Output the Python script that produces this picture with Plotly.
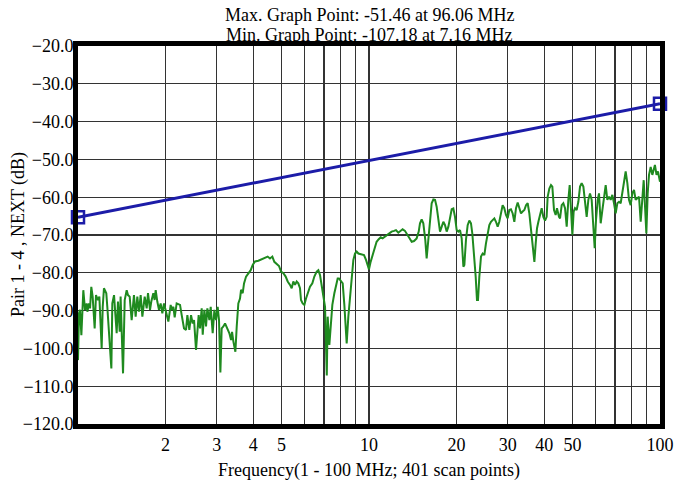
import plotly.graph_objects as go

# Measured NEXT trace (frequency in MHz, value in dB)
freq_mhz = [
    1.000, 1.008, 1.016, 1.027, 1.043, 1.057, 1.071, 1.077, 1.091, 1.100, 1.111, 1.123, 1.141, 1.153, 1.171, 1.184,
    1.206, 1.216, 1.228, 1.251, 1.261, 1.302, 1.312, 1.330, 1.358, 1.372, 1.391, 1.401, 1.428, 1.447, 1.470, 1.485,
    1.505, 1.529, 1.557, 1.578, 1.599, 1.620, 1.642, 1.664, 1.695, 1.722, 1.740, 1.768, 1.786, 1.815, 1.834, 1.849,
    1.873, 1.898, 1.923, 1.949, 1.975, 2.044, 2.082,
    2.099, 2.127, 2.149, 2.183, 2.242, 2.272, 2.314, 2.351, 2.376, 2.413, 2.446, 2.478, 2.505, 2.544, 2.571, 2.598,
    2.626, 2.661, 2.683, 2.718, 2.754, 2.783, 2.828, 2.858, 2.903, 2.942, 2.981, 3.020, 3.052, 3.085, 3.117, 3.159,
    3.201, 3.260, 3.313, 3.357, 3.384, 3.420, 3.474, 3.511, 3.556, 3.604, 3.633, 3.681, 3.720, 3.780, 3.850, 3.922,
    3.984, 4.058, 4.167, 4.278, 4.390,
    4.485, 4.568, 4.654, 4.728, 4.816, 4.906, 4.985, 5.078, 5.172, 5.255, 5.353, 5.424, 5.495, 5.568, 5.642, 5.716,
    5.793, 5.839, 5.916, 5.996, 6.075, 6.155, 6.270, 6.387, 6.489, 6.610, 6.698, 6.787, 6.914, 6.987, 7.062, 7.16,
    7.211, 7.307, 7.404, 7.482, 7.602, 7.683, 7.805, 7.888, 8.014, 8.121, 8.228, 8.381, 8.492, 8.605, 8.719, 8.836,
    8.953, 9.071, 9.192, 9.386,
    9.612, 9.766, 9.870, 10.00, 10.13, 10.29, 10.46, 10.62, 10.80, 10.97, 11.14, 11.35, 11.56, 11.75, 11.96, 12.19,
    12.38, 12.61, 12.84, 13.05, 13.29, 13.47, 13.76, 14.02, 14.28, 14.58, 14.82, 14.97, 15.17, 15.37, 15.61, 15.78,
    15.99, 16.20, 16.42, 16.64, 16.86, 17.08, 17.36, 17.54, 17.78, 18.01, 18.25, 18.49, 18.74, 18.98, 19.24, 19.49,
    19.75, 20.01,
    20.28, 20.55, 20.82, 21.10, 21.27, 21.54, 21.83, 22.12, 22.41, 22.65, 22.95, 23.26, 23.50, 23.69, 23.94, 24.26,
    24.58, 24.91, 25.23, 25.57, 25.91, 26.25, 26.60, 26.96, 27.31, 27.68, 28.04, 28.42, 28.79, 29.17, 29.56, 29.95,
    30.35, 30.75, 31.17, 31.58, 32.00, 32.43, 32.86, 33.29, 33.73, 34.19, 34.64, 35.10, 35.56, 36.05, 36.52, 37.01,
    37.40, 37.79, 38.20, 38.70, 39.21, 39.73, 40.26, 40.78, 41.11, 41.66, 42.21, 42.66, 43.23, 43.80, 44.26, 44.97,
    45.34, 45.94, 46.54, 47.17, 47.80, 48.42, 48.94, 49.46, 49.99, 50.50, 51.04, 51.72, 52.41, 53.11, 53.81, 54.53,
    55.25, 55.98, 56.72, 57.48, 58.24, 59.01, 59.64, 60.27, 61.07, 61.72, 62.54, 63.38, 64.22, 65.07, 65.92, 66.81,
    67.69, 68.58, 69.49, 70.42, 71.35, 72.30, 73.26, 74.24, 75.22, 76.21, 77.23, 78.24, 79.28, 80.33, 81.41, 82.48,
    83.58, 84.71, 85.83, 86.97, 87.90, 88.83, 89.76, 90.72, 91.67, 92.90, 94.12, 96.06, 97.30, 98.40, 100.0,
]
next_db = [
    -103.1, -90.7, -89.8, -96.5, -84.6, -89.8, -88.1, -90.3, -88.1, -89.4, -83.7, -86.3, -94.7, -85.9, -87.2, -86.3,
    -100.0, -89.0, -84.1, -85.4, -89.0, -105.3, -88.1, -85.9, -96.0, -87.6, -95.6, -86.3, -106.6, -87.2, -84.6, -85.9,
    -86.3, -92.5, -85.9, -91.6, -86.3, -90.3, -85.9, -91.6, -86.3, -89.4, -85.4, -89.8, -87.6, -85.4, -87.2, -84.6,
    -87.6, -89.8, -88.1, -90.7, -88.1, -92.9, -88.5,
    -89.8, -89.0, -91.8, -88.1, -88.5, -91.2, -94.7, -95.1, -91.2, -95.1, -91.2, -93.4, -92.5, -100.4, -94.2, -91.2,
    -94.7, -89.4, -96.4, -89.8, -94.2, -89.4, -92.5, -89.0, -96.0, -89.8, -92.5, -89.0, -92.5, -106.4, -94.7, -94.2,
    -93.4, -94.7, -96.0, -97.8, -95.6, -98.2, -100.9, -94.2, -88.1, -86.8, -84.5, -85.4, -82.8, -81.0, -80.1, -79.3,
    -77.9, -77.0, -76.8, -76.4, -76.2,
    -75.7, -76.2, -75.7, -77.1, -77.7, -78.2, -79.7, -80.1, -81.0, -82.3, -83.2, -84.1, -82.3, -83.2, -82.3, -82.8,
    -84.1, -87.2, -88.1, -88.5, -86.8, -85.4, -83.7, -82.8, -81.0, -79.7, -79.3, -80.6, -84.1, -86.8, -89.0, -107.18,
    -91.6, -99.1, -91.6, -88.5, -85.4, -83.7, -81.5, -81.5, -82.3, -82.8, -88.5, -98.7, -91.6, -85.9, -81.9, -76.6,
    -74.9, -74.4, -74.9, -75.0,
    -75.3, -76.6, -77.9, -79.1, -77.1, -75.3, -73.5, -71.8, -71.1, -70.6, -70.9, -70.4, -69.8, -69.4, -69.1, -68.9,
    -68.7, -69.4, -68.9, -68.5, -68.9, -69.7, -70.6, -71.8, -71.6, -70.9, -69.1, -66.9, -65.9, -66.9, -71.3, -76.2,
    -71.3, -65.2, -61.6, -60.6, -60.7, -62.5, -66.0, -69.1, -67.8, -66.5, -67.4, -69.1, -67.8, -65.2, -63.2, -63.0,
    -65.2, -68.7,
    -69.1, -68.7, -70.9, -78.4, -77.9, -71.3, -67.4, -66.2, -66.9, -69.6, -74.9, -81.0, -87.2, -87.2, -81.0, -75.7,
    -74.9, -75.3, -72.2, -69.1, -67.4, -66.5, -66.0, -65.6, -66.5, -67.8, -66.5, -63.8, -62.1, -62.9, -64.7, -65.6,
    -63.4, -63.2, -64.3, -66.5, -62.9, -61.4, -62.9, -64.3, -63.8, -63.4, -62.1, -61.6, -64.3, -69.1, -72.6, -77.1,
    -72.2, -68.2, -66.5, -64.3, -62.9, -65.2, -66.2, -65.2, -59.9, -57.7, -56.8, -57.2, -63.4, -64.7, -62.9, -65.2,
    -65.6, -62.1, -61.6, -62.9, -67.8, -60.7, -56.8, -63.4, -70.0, -63.8, -62.9, -63.4, -61.2, -57.2, -56.3, -57.2,
    -60.7, -65.2, -60.7, -59.0, -60.7, -66.9, -73.5, -66.0, -60.7, -59.0, -66.9, -63.4, -59.9, -56.8, -60.7, -59.9,
    -60.7, -59.4, -61.6, -64.3, -61.6, -61.2, -61.6, -59.0, -55.5, -53.2, -56.3, -60.7, -62.1, -59.0, -58.1, -60.7,
    -60.3, -59.9, -66.5, -60.7, -55.5, -62.5, -69.6, -59.0, -54.1, -52.0, -54.1, -51.46, -54.1, -53.2, -55.9,
]

# Limit line
limit_freq = [1.0, 100.0]
limit_db = [-65.3, -35.3]

# Axis ticks
x_tickvals = [1, 2, 3, 4, 5, 6, 7, 8, 9, 10, 20, 30, 40, 50, 60, 70, 80, 90, 100]
x_ticktext = ["", "2", "3", "4", "5", "", "", "", "", "10", "20", "30", "40", "50", "", "", "", "", "100"]
y_tickvals = [-20, -30, -40, -50, -60, -70, -80, -90, -100, -110, -120]

FONT = "Liberation Serif, Times New Roman, serif"

fig = go.Figure()
fig.add_trace(go.Scatter(
    x=freq_mhz, y=next_db, mode="lines",
    line=dict(color="#1f8a1f", width=2), showlegend=False,
))
fig.add_trace(go.Scatter(
    x=limit_freq, y=limit_db, mode="lines+markers",
    line=dict(color="#1c1ca8", width=3),
    marker=dict(symbol="square-open", size=12, color="#1c1ca8", line=dict(width=2.5, color="#1c1ca8")),
    cliponaxis=False, showlegend=False,
))

fig.update_layout(
    width=675, height=486,
    margin=dict(l=78, r=15, t=46, b=62, autoexpand=False),
    paper_bgcolor="white", plot_bgcolor="white",
    font=dict(family=FONT, size=18, color="black"),
    hovermode=False,
    xaxis=dict(
        type="log", range=[0, 2], automargin=False,
        tickvals=x_tickvals, ticktext=x_ticktext,
        showgrid=True, gridcolor="#333333", gridwidth=1.2,
        showline=True, linecolor="black", linewidth=5, mirror=True,
        ticks="", ticklabelstandoff=0, zeroline=False,
        tickfont=dict(family=FONT, size=18),
    ),
    yaxis=dict(
        range=[-120, -20], tickvals=y_tickvals, tickformat=".1f", automargin=False,
        showgrid=True, gridcolor="#333333", gridwidth=1.2,
        showline=True, linecolor="black", linewidth=5, mirror=True,
        ticks="", ticklabelstandoff=-4, zeroline=False,
        tickfont=dict(family=FONT, size=18),
    ),
    annotations=[
        dict(text="Max. Graph Point: -51.46 at 96.06 MHz", x=0.5, y=1.082, xref="paper", yref="paper",
             xanchor="center", yanchor="middle", showarrow=False, font=dict(family=FONT, size=18)),
        dict(text="Min. Graph Point: -107.18 at 7.16 MHz", x=0.5, y=1.029, xref="paper", yref="paper",
             xanchor="center", yanchor="middle", showarrow=False, font=dict(family=FONT, size=18)),
        dict(text="Frequency(1 - 100 MHz; 401 scan points)", x=0.5, y=-0.122, xref="paper", yref="paper",
             xanchor="center", yanchor="middle", showarrow=False, font=dict(family=FONT, size=18)),
        dict(text="Pair 1 - 4 , NEXT (dB)", x=-0.103, y=0.5, xref="paper", yref="paper", textangle=-90,
             xanchor="center", yanchor="middle", showarrow=False, font=dict(family=FONT, size=18)),
    ],
)

fig.write_html(
    "out.html",
    config={"displayModeBar": False, "staticPlot": True},
    post_script="document.body.style.margin='0px';document.body.style.overflow='hidden';",
)
